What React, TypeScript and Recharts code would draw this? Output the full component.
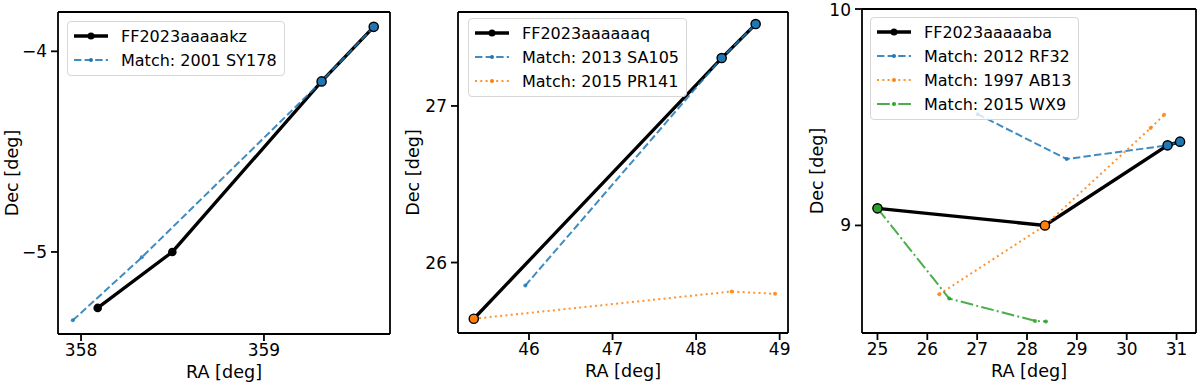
import React from "react";
import { Line, LineChart, XAxis, YAxis } from "recharts";

// panel 1: FF2023aaaaakz
const obs1Ra = [358.091, 358.499, 359.315, 359.6];
const obs1Dec = [-5.279, -5.0, -4.15, -3.878];
const sy178Ra = [357.955, 358.332, 359.315, 359.6];
const sy178Dec = [-5.341, -5.027, -4.15, -3.878];
const p1RaTicks = [358, 359];
const p1DecTicks = [-5, -4];
const p1RaLim = [357.874, 359.689];
const p1DecLim = [-5.409, -3.804];

// panel 2: FF2023aaaaaaq
const obs2Ra = [45.339, 48.306, 48.713];
const obs2Dec = [25.641, 27.306, 27.523];
const sa105Ra = [45.956, 48.306, 48.713];
const sa105Dec = [25.853, 27.306, 27.523];
const pr141Ra = [45.339, 48.426, 48.945];
const pr141Dec = [25.641, 25.815, 25.8];
const p2RaTicks = [46, 47, 48, 49];
const p2DecTicks = [26, 27];
const p2RaLim = [45.15, 49.1];
const p2DecLim = [25.55, 27.6];

// panel 3: FF2023aaaaaba
const obs3Ra = [25.0, 28.36, 30.82, 31.07];
const obs3Dec = [9.079, 9.0, 9.37, 9.387];
const rf32Ra = [27.01, 28.795, 30.82, 31.07];
const rf32Dec = [9.514, 9.307, 9.37, 9.387];
const ab13Ra = [26.24, 28.36, 30.48, 30.75];
const ab13Dec = [8.682, 9.0, 9.45, 9.511];
const wx9Ra = [25.0, 26.44, 28.16, 28.38];
const wx9Dec = [9.079, 8.662, 8.559, 8.556];
const p3RaTicks = [25, 26, 27, 28, 29, 30, 31];
const p3DecTicks = [9, 10];
const p3RaLim = [24.69, 31.39];
const p3DecLim = [8.503, 10];

const FONT = "DejaVu Sans, sans-serif";
const BLUE = "#1f77b4";
const ORANGE = "#ff7f0e";
const GREEN = "#2ca02c";

const DASHED = "7.4 3.2";
const DOTTED = "2 3.3";
const DASHDOT = "12.8 3.2 2 3.2";

const FRAME = { stroke: "#000", strokeWidth: 1.8 };

type Pt = { ra: number; dec: number };
const zip = (ra: number[], dec: number[]): Pt[] => ra.map((r, i) => ({ ra: r, dec: dec[i] }));

interface Series {
  name: string;
  ra: number[];
  dec: number[];
  color: string;
  dash: string;
}

interface PanelProps {
  left: number;
  width: number;
  yAxisWidth: number;
  top: number;
  bottom: number;
  decLabelOffset: number;
  raLim: number[];
  decLim: number[];
  raTicks: number[];
  decTicks: number[];
  obsName: string;
  obsRa: number[];
  obsDec: number[];
  matches: Series[];
  legend: { left: number; top: number };
}

const fmt = (v: number) => String(v).replace("-", "\u2212");

function LegendSample({ color, dash, thick }: { color: string; dash?: string; thick?: boolean }) {
  return (
    <svg width={34} height={10} style={{ display: "block" }}>
      <line
        x1={0}
        x2={34}
        y1={5}
        y2={5}
        stroke={color}
        strokeOpacity={thick ? 1 : 0.85}
        strokeWidth={thick ? 3.3 : 2}
        strokeDasharray={dash}
      />
      <circle cx={17} cy={5} r={thick ? 3.5 : 2} fill={color} />
    </svg>
  );
}

function Panel(p: PanelProps) {
  const obs = zip(p.obsRa, p.obsDec);
  const isObs = (ra: number) => p.obsRa.includes(ra);
  const height = 385;

  const obsDot = (props: any) => (
    <circle key={`o-${props.index}`} cx={props.cx} cy={props.cy} r={4.3} fill="#000" />
  );
  const matchDot = (color: string) => (props: any) =>
    isObs(props.payload.ra) ? (
      <circle
        key={`m-${props.index}`}
        cx={props.cx}
        cy={props.cy}
        r={4.6}
        fill={color}
        stroke="#000"
        strokeWidth={1.4}
      />
    ) : (
      <circle key={`m-${props.index}`} cx={props.cx} cy={props.cy} r={2} fill={color} fillOpacity={0.85} />
    );

  const tickStyle = { fill: "#000", fontSize: 17, fontFamily: FONT };
  const labelStyle = { fill: "#000", fontSize: 17.6, fontFamily: FONT };

  return (
    <>
      <div style={{ position: "absolute", left: p.left, top: 0 }}>
        <LineChart
          width={p.width}
          height={height}
          margin={{ top: p.top - 1, right: 3, left: 0, bottom: height - p.bottom - 40 }}
        >
          <XAxis
            type="number"
            dataKey="ra"
            domain={p.raLim}
            allowDataOverflow
            ticks={p.raTicks}
            tickFormatter={fmt}
            height={40}
            tickSize={7}
            tickMargin={3}
            tick={tickStyle}
            axisLine={FRAME}
            tickLine={FRAME}
            label={{ value: "RA [deg]", position: "insideBottom", offset: -4, style: labelStyle }}
          />
          <XAxis
            xAxisId="top"
            orientation="top"
            type="number"
            dataKey="ra"
            domain={p.raLim}
            allowDataOverflow
            height={1}
            tick={false}
            tickLine={false}
            axisLine={FRAME}
          />
          <YAxis
            type="number"
            dataKey="dec"
            domain={p.decLim}
            allowDataOverflow
            ticks={p.decTicks}
            tickFormatter={fmt}
            width={p.yAxisWidth}
            tickSize={7}
            tickMargin={4}
            tick={tickStyle}
            axisLine={FRAME}
            tickLine={FRAME}
            label={{
              value: "Dec [deg]",
              angle: -90,
              position: "insideLeft",
              offset: p.decLabelOffset,
              style: { ...labelStyle, textAnchor: "middle" },
            }}
          />
          <YAxis
            yAxisId="right"
            orientation="right"
            type="number"
            dataKey="dec"
            domain={p.decLim}
            allowDataOverflow
            width={1}
            tick={false}
            tickLine={false}
            axisLine={FRAME}
          />
          <Line
            data={obs}
            dataKey="dec"
            stroke="#000"
            strokeWidth={3.3}
            dot={obsDot}
            activeDot={false}
            isAnimationActive={false}
          />
          {p.matches.map((m) => (
            <Line
              key={m.name}
              data={zip(m.ra, m.dec)}
              dataKey="dec"
              stroke={m.color}
              strokeOpacity={0.85}
              strokeWidth={2}
              strokeDasharray={m.dash}
              dot={matchDot(m.color)}
              activeDot={false}
              isAnimationActive={false}
            />
          ))}
        </LineChart>
      </div>
      <div
        style={{
          position: "absolute",
          left: p.legend.left,
          top: p.legend.top,
          padding: "2px 7px 3px 6px",
          border: "1px solid #d6d6d6",
          borderRadius: 4,
          background: "rgba(255,255,255,0.8)",
          fontFamily: FONT,
          fontSize: 16,
          color: "#000",
        }}
      >
        <div style={{ display: "flex", alignItems: "center", height: 24 }}>
          <LegendSample color="#000" thick />
          <span style={{ marginLeft: 13 }}>{p.obsName}</span>
        </div>
        {p.matches.map((m) => (
          <div key={m.name} style={{ display: "flex", alignItems: "center", height: 24 }}>
            <LegendSample color={m.color} dash={m.dash} />
            <span style={{ marginLeft: 13 }}>{m.name}</span>
          </div>
        ))}
      </div>
    </>
  );
}

export default function App() {
  return (
    <div
      style={{
        position: "absolute",
        left: 0,
        top: 0,
        width: 1200,
        height: 385,
        background: "#fff",
        overflow: "hidden",
      }}
    >
      <Panel
        left={0}
        width={394}
        yAxisWidth={58}
        top={12}
        bottom={334}
        decLabelOffset={12}
        raLim={p1RaLim}
        decLim={p1DecLim}
        raTicks={p1RaTicks}
        decTicks={p1DecTicks}
        obsName="FF2023aaaaakz"
        obsRa={obs1Ra}
        obsDec={obs1Dec}
        matches={[{ name: "Match: 2001 SY178", ra: sy178Ra, dec: sy178Dec, color: BLUE, dash: DASHED }]}
        legend={{ left: 67, top: 21 }}
      />
      <Panel
        left={400}
        width={392}
        yAxisWidth={58}
        top={12}
        bottom={333}
        decLabelOffset={13}
        raLim={p2RaLim}
        decLim={p2DecLim}
        raTicks={p2RaTicks}
        decTicks={p2DecTicks}
        obsName="FF2023aaaaaaq"
        obsRa={obs2Ra}
        obsDec={obs2Dec}
        matches={[
          { name: "Match: 2013 SA105", ra: sa105Ra, dec: sa105Dec, color: BLUE, dash: DASHED },
          { name: "Match: 2015 PR141", ra: pr141Ra, dec: pr141Dec, color: ORANGE, dash: DOTTED },
        ]}
        legend={{ left: 468, top: 18 }}
      />
      <Panel
        left={800}
        width={400}
        yAxisWidth={62}
        top={9}
        bottom={333}
        decLabelOffset={17}
        raLim={p3RaLim}
        decLim={p3DecLim}
        raTicks={p3RaTicks}
        decTicks={p3DecTicks}
        obsName="FF2023aaaaaba"
        obsRa={obs3Ra}
        obsDec={obs3Dec}
        matches={[
          { name: "Match: 2012 RF32", ra: rf32Ra, dec: rf32Dec, color: BLUE, dash: DASHED },
          { name: "Match: 1997 AB13", ra: ab13Ra, dec: ab13Dec, color: ORANGE, dash: DOTTED },
          { name: "Match: 2015 WX9", ra: wx9Ra, dec: wx9Dec, color: GREEN, dash: DASHDOT },
        ]}
        legend={{ left: 870, top: 17 }}
      />
    </div>
  );
}
